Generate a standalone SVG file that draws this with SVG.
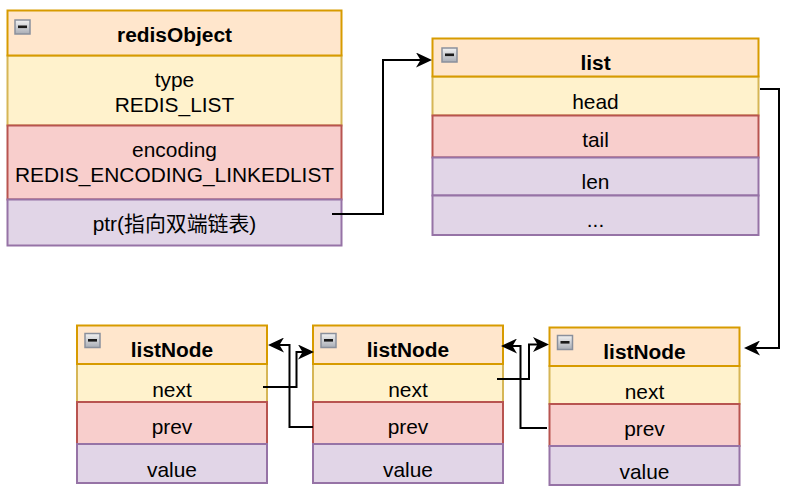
<svg xmlns="http://www.w3.org/2000/svg" width="798" height="495" viewBox="0 0 798 495">
<defs>
<linearGradient id="ig" x1="0" y1="0" x2="0" y2="1">
<stop offset="0" stop-color="#f2f2f2"/>
<stop offset="1" stop-color="#a9adb5"/>
</linearGradient>
<marker id="arr" markerUnits="userSpaceOnUse" markerWidth="16" markerHeight="15" refX="12" refY="7.5" orient="auto">
<path d="M0,0 L16,7.5 L0,15 L4.5,7.5 Z" fill="#000"/>
</marker>
<g id="icon">
<rect x="0.5" y="0.5" width="15" height="14" fill="url(#ig)" stroke="#8a909c" stroke-width="1.5"/>
<rect x="3.5" y="6" width="9" height="2.6" fill="#1a1a1a"/>
</g>
</defs>
<style>
text{font-family:"Liberation Sans","Noto Sans CJK SC",Arial,sans-serif;font-size:20.9px;fill:#000;text-anchor:middle}
.b{font-weight:bold}
rect.h{fill:#ffe6cc;stroke:#d79b00;stroke-width:2}
rect.y{fill:#fff2cc;stroke:#d6b656;stroke-width:2}
rect.r{fill:#f8cecc;stroke:#b85450;stroke-width:2}
rect.p{fill:#e1d5e7;stroke:#9673a6;stroke-width:2}
.e{fill:none;stroke:#000;stroke-width:2;marker-end:url(#arr)}
</style>
<rect width="798" height="495" fill="#fff"/>

<g id="redisObject">
<rect class="y" x="7.5" y="55.5" width="334" height="70"/>
<rect class="r" x="7.5" y="125.5" width="334" height="74"/>
<rect class="p" x="7.5" y="199.5" width="334" height="46"/>
<rect class="h" x="7.5" y="10.5" width="334" height="45"/>
<use href="#icon" x="14.5" y="19.5"/>
<text class="b" x="174.5" y="41.5">redisObject</text>
<text x="174.5" y="87">type</text>
<text x="174.5" y="111.7">REDIS_LIST</text>
<text x="174.5" y="157">encoding</text>
<text x="174.5" y="182">REDIS_ENCODING_LINKEDLIST</text>
<text x="174.5" y="230.5">ptr(指向双端链表)</text>
</g>

<g id="list">
<rect class="y" x="432.5" y="76.5" width="326" height="39"/>
<rect class="r" x="432.5" y="115.5" width="326" height="42"/>
<rect class="p" x="432.5" y="157.5" width="326" height="38"/>
<rect class="p" x="432.5" y="195.5" width="326" height="39.5"/>
<rect class="h" x="432.5" y="38.5" width="326" height="38"/>
<use href="#icon" x="441.5" y="47.5"/>
<text class="b" x="595.5" y="70">list</text>
<text x="595.5" y="109">head</text>
<text x="595.5" y="147">tail</text>
<text x="595.5" y="189">len</text>
<text x="595.5" y="227">...</text>
</g>

<g id="listNode1">
<rect class="y" x="77" y="364" width="190" height="38"/>
<rect class="r" x="77" y="402" width="190" height="42"/>
<rect class="p" x="77" y="444" width="190" height="39"/>
<rect class="h" x="77" y="325.5" width="190" height="38.5"/>
<use href="#icon" x="84.5" y="333"/>
<text class="b" x="172" y="356.5">listNode</text>
<text x="172" y="396.5">next</text>
<text x="172" y="434">prev</text>
<text x="172" y="476.5">value</text>
</g>

<g id="listNode2">
<rect class="y" x="313" y="364" width="190" height="38"/>
<rect class="r" x="313" y="402" width="190" height="42"/>
<rect class="p" x="313" y="444" width="190" height="39"/>
<rect class="h" x="313" y="325.5" width="190" height="38.5"/>
<use href="#icon" x="320.5" y="333"/>
<text class="b" x="408" y="356.5">listNode</text>
<text x="408" y="396.5">next</text>
<text x="408" y="434">prev</text>
<text x="408" y="476.5">value</text>
</g>

<g id="listNode3">
<rect class="y" x="549.5" y="366" width="190" height="38"/>
<rect class="r" x="549.5" y="404" width="190" height="42"/>
<rect class="p" x="549.5" y="446" width="190" height="39"/>
<rect class="h" x="549.5" y="327.5" width="190" height="38.5"/>
<use href="#icon" x="557" y="335"/>
<text class="b" x="644.5" y="358.5">listNode</text>
<text x="644.5" y="398.5">next</text>
<text x="644.5" y="436">prev</text>
<text x="644.5" y="478.5">value</text>
</g>

<g id="connectors">
<path class="e" d="M332,214 H383 V60 H428"/>
<path class="e" d="M760,89 H779 V348 H748"/>
<path class="e" d="M263,387 H296.5 V352 H310"/>
<path class="e" d="M313,427 H289.5 V345 H272"/>
<path class="e" d="M497,379 H529 V344.5 H545"/>
<path class="e" d="M547,428 H520.5 V346 H505"/>
</g>
</svg>
